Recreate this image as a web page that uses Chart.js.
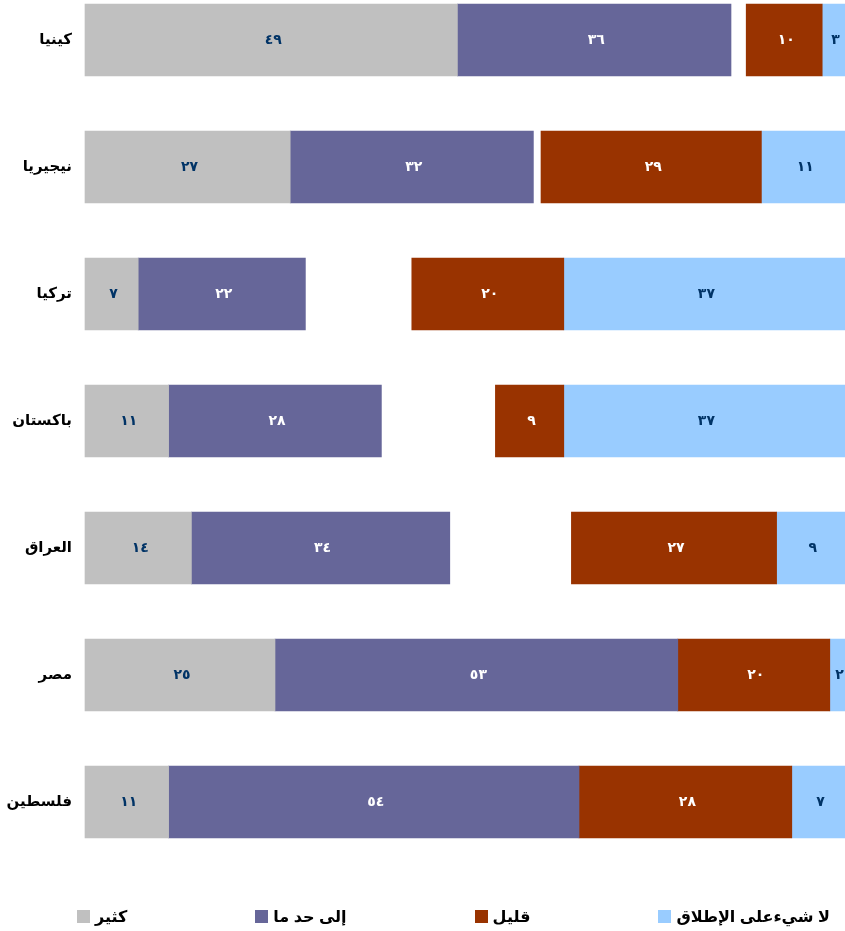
<!DOCTYPE html>
<html><head><meta charset="utf-8">
<script src="https://cdn.jsdelivr.net/npm/chart.js@4"></script>
<style>
html,body{margin:0;padding:0;background:#fff;}
#wrap{position:relative;width:845px;height:931px;}
#legend{position:absolute;left:77px;top:907px;display:flex;gap:128px;font:bold 16px Arial,'DejaVu Sans',sans-serif;color:#000;line-height:19px;}
.item{display:flex;align-items:center;}
.box{width:13px;height:13px;margin-right:5px;flex:none;}
</style></head>
<body><div id="wrap"><canvas id="c" width="845" height="931"></canvas><div id="legend"></div></div>
<script>
const countries = ['كينيا','نيجيريا','تركيا','باكستان','العراق','مصر','فلسطين'];
const seriesNames = ['كثير','إلى حد ما','قليل','لا شيءعلى الإطلاق'];
const aLot = [49,27,7,11,14,25,11];
const somewhat = [36,32,22,28,34,53,54];
const little = [10,29,20,9,27,20,28];
const notAtAll = [3,11,37,37,9,2,7];
const colors = ['#C0C0C0','#666699','#993300','#99CCFF'];
const labelColors = ['#003366','#FFFFFF','#FFFFFF','#003366'];

const values = [aLot, somewhat, little, notAtAll];
const toArabic = n => String(n).replace(/\d/g, d => '٠١٢٣٤٥٦٧٨٩'[d]);

const floating = [
  aLot.map(v => [0, v]),
  somewhat.map((v, i) => [aLot[i], aLot[i] + v]),
  little.map((v, i) => [100 - notAtAll[i] - v, 100 - notAtAll[i]]),
  notAtAll.map(v => [100 - v, 100])
];

const labelPlugin = {
  id: 'segLabels',
  afterDatasetsDraw(chart) {
    const ctx = chart.ctx;
    ctx.save();
    ctx.font = "bold 14px Arial, 'DejaVu Sans', sans-serif";
    ctx.textAlign = 'center';
    ctx.textBaseline = 'middle';
    try { ctx.letterSpacing = '4px'; } catch (e) {}
    chart.data.datasets.forEach((ds, di) => {
      const meta = chart.getDatasetMeta(di);
      meta.data.forEach((el, i) => {
        const p = el.getCenterPoint();
        ctx.fillStyle = labelColors[di];
        ctx.fillText(toArabic(values[di][i]), p.x + 2, p.y);
      });
    });
    ctx.restore();
  }
};

new Chart(document.getElementById('c'), {
  type: 'bar',
  data: {
    labels: countries,
    datasets: seriesNames.map((name, di) => ({
      label: name,
      data: floating[di],
      backgroundColor: colors[di],
      borderWidth: 0,
      barThickness: 72,
      grouped: false,
      clip: false
    }))
  },
  options: {
    indexAxis: 'y',
    responsive: false,
    animation: false,
    layout: { padding: { top: 40, bottom: 129, left: 0, right: 0 } },
    plugins: { legend: { display: false }, tooltip: { enabled: false } },
    scales: {
      x: { min: 0, max: 100, display: false },
      y: {
        offset: false,
        grid: { display: false, drawTicks: false },
        border: { display: false },
        ticks: { color: '#000', padding: 13, font: { family: "Arial, 'DejaVu Sans', sans-serif", size: 15, weight: 'bold' } },
        afterFit(s) { s.width = 85; }
      }
    }
  },
  plugins: [labelPlugin]
});

const legend = document.getElementById('legend');
seriesNames.forEach((name, di) => {
  const item = document.createElement('div');
  item.className = 'item';
  const box = document.createElement('span');
  box.className = 'box';
  box.style.background = colors[di];
  const txt = document.createElement('span');
  txt.dir = 'rtl';
  txt.textContent = name;
  item.appendChild(box);
  item.appendChild(txt);
  legend.appendChild(item);
});
</script>
</body></html>
